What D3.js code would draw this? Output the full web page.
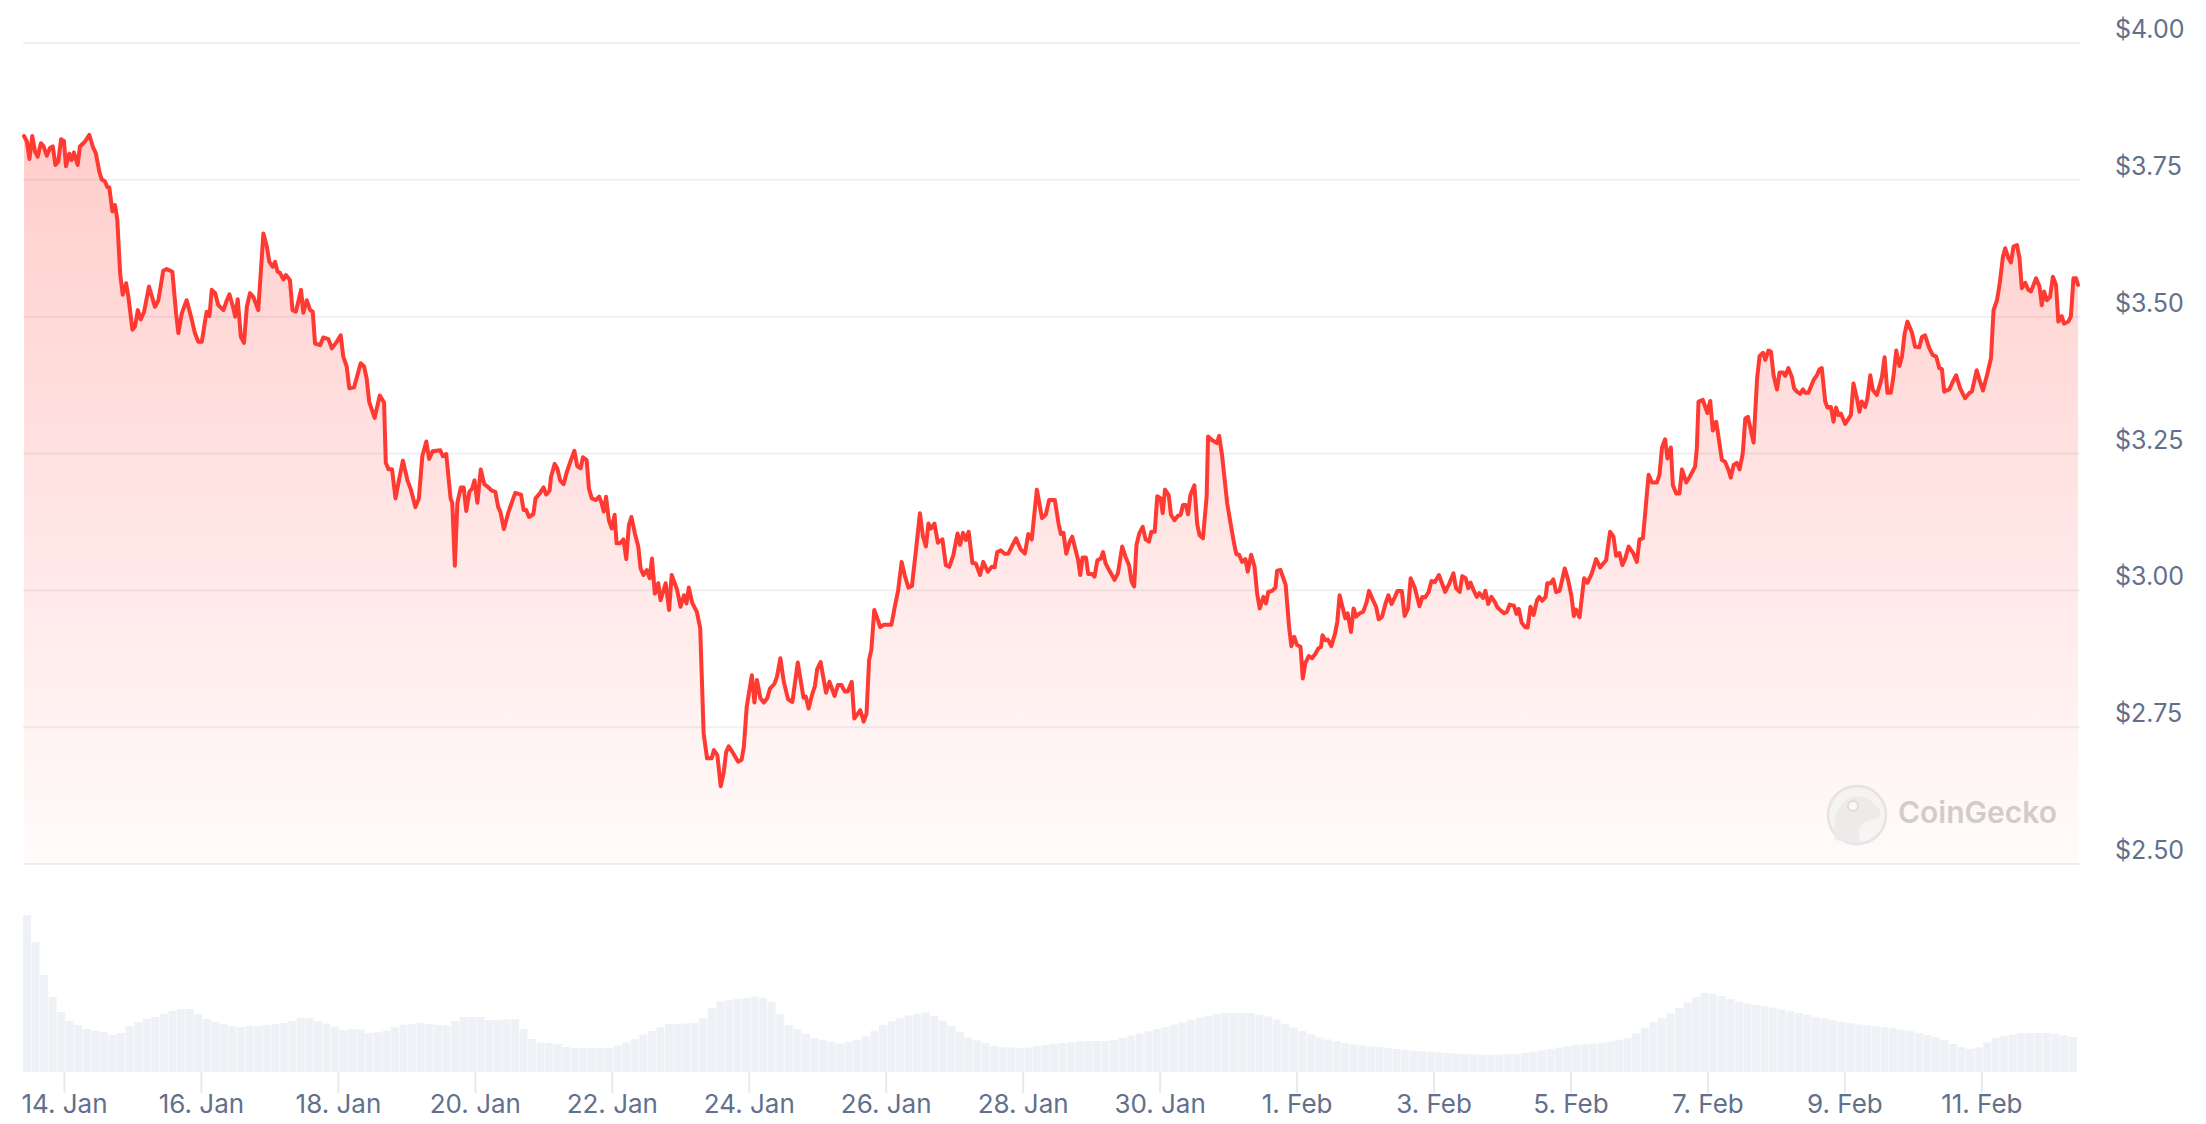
<!DOCTYPE html>
<html>
<head>
<meta charset="utf-8">
<script src="https://cdn.jsdelivr.net/npm/d3@7"></script>
<style>
  body { margin: 0; background: #ffffff; }
  svg { display: block; font-family: Inter, "Noto Sans", sans-serif; }
</style>
</head>
<body>
<div id="chart"></div>
<script>
// Page and pane layout (price pane on top, volume strip underneath).
var width = 2206;
var height = 1124;
var pane = { left: 23, right: 2080, top: 43, bottom: 864 };
var volPane = { top: 900, bottom: 1072 };
var lineStart = 24, lineEnd = 2078;

// Price points: hours since 13 Jan 2025 00:00, and price in USD.
var hours = [
  9.8,10.8,11.7,12.7,13.7,14.6,15.7,16.6,17.8,18.9,
  19.9,20.8,21.8,22.8,23.8,24.5,25.7,26.5,27.3,28.6,
  29.4,31.2,32.7,33.9,35.0,36.2,37.0,38.2,39.0,39.7,
  40.8,41.7,42.5,43.5,44.4,45.6,46.4,47.8,48.7,49.7,
  50.7,51.9,53.6,55.7,56.9,58.6,59.8,61.8,63.1,63.9,
  65.1,66.8,68.2,69.7,70.9,72.1,73.8,74.8,75.6,76.8,
  77.9,79.7,80.9,81.8,83.2,83.8,84.7,85.8,86.9,87.9,
  89.0,90.2,91.9,93.7,94.9,95.8,97.0,97.8,98.7,99.5,
  100.7,101.6,103.0,103.9,105.1,106.9,107.7,108.9,110.1,111.0,
  111.8,113.6,114.7,116.5,117.7,119.4,120.8,121.7,122.9,123.8,
  125.5,127.8,129.0,129.9,130.8,132.7,134.5,136.0,136.6,137.6,
  138.8,140.0,141.2,142.6,144.2,145.4,147.0,148.2,149.4,150.8,
  151.8,153.0,155.7,156.6,157.8,159.3,159.9,160.8,161.7,162.9,
  163.9,164.8,165.9,166.9,167.7,168.7,169.9,171.1,172.6,173.8,
  175.0,176.0,176.8,178.0,179.6,181.0,182.0,184.0,184.9,185.8,
  186.8,188.3,189.1,190.7,191.9,192.8,194.0,194.5,195.8,196.7,
  197.7,198.9,200.1,201.3,202.7,203.7,204.9,205.7,207.0,207.8,
  208.8,210.2,211.4,212.2,213.0,213.8,214.8,215.8,216.8,217.5,
  218.7,219.9,220.9,221.8,222.7,223.9,225.1,225.9,226.9,228.1,
  229.1,229.9,230.9,232.1,232.9,234.7,235.9,236.8,238.7,239.9,
  241.1,242.0,242.8,244.0,245.6,246.8,248.0,249.2,250.8,251.6,
  252.8,254.0,255.0,255.9,256.8,258.3,260.1,261.3,262.1,263.1,
  264.9,265.8,266.7,267.9,269.1,270.3,271.3,272.8,273.7,274.9,
  276.1,277.6,279.1,281.0,283.0,283.8,284.8,286.0,287.0,287.8,
  289.0,290.9,292.1,293.9,295.1,296.3,297.5,298.5,299.9,300.8,
  301.7,302.9,304.1,305.1,306.0,306.8,307.8,309.0,309.9,311.2,
  313.8,315.0,316.2,317.4,318.6,319.8,321.0,322.5,323.8,324.9,
  325.9,326.8,327.7,328.9,330.1,331.7,332.9,334.1,335.5,337.0,
  337.9,338.9,339.9,340.9,342.2,343.4,344.9,346.0,347.6,349.0,
  350.0,350.9,352.2,353.4,354.8,356.0,357.5,359.1,360.6,361.8,
  363.0,364.8,366.6,367.9,369.1,371.1,372.4,373.2,374.1,375.1,
  376.3,377.2,378.4,379.2,380.0,380.8,382.0,382.8,384.1,385.0,
  386.0,387.2,388.0,388.9,389.8,391.1,392.0,393.2,394.7,395.9,
  397.1,398.0,398.9,399.7,400.7,401.9,402.9,404.1,404.9,406.1,
  407.0,408.2,408.9,409.7,411.0,411.8,413.0,414.2,415.2,416.0,
  417.0,417.8,418.6,420.0,421.0,421.8,423.0,424.3,424.8,426.0,
  427.9,428.7,429.7,431.5,432.7,433.9,434.7,435.7,436.7,437.9,
  438.7,439.9,441.1,442.0,442.9,444.2,445.1,445.9,447.2,448.4,
  449.0,450.2,452.0,453.2,454.0,455.0,456.0,457.2,458.0,458.9,
  460.1,461.3,462.5,463.5,464.4,464.9,465.9,466.8,468.0,469.3,
  470.1,470.9,471.9,472.9,473.7,474.9,475.8,476.7,478.0,479.2,
  480.4,481.2,482.6,483.7,484.6,485.8,487.0,488.0,489.1,490.3,
  491.2,492.7,493.7,494.9,495.8,497.3,498.9,499.9,500.9,502.1,
  503.1,504.3,505.7,507.2,507.9,509.3,510.8,511.7,513.0,513.9,
  515.1,516.0,516.8,517.8,519.0,519.9,521.2,522.0,523.0,524.1,
  525.3,526.2,527.4,528.6,529.6,530.5,532.0,532.9,533.7,534.7,
  535.9,536.8,537.8,538.9,540.1,540.9,541.9,543.1,543.7,544.9,
  545.8,546.8,548.0,548.9,549.8,551.0,552.2,553.0,553.7,555.0,
  556.6,557.8,559.3,560.8,562.2,564.3,565.7,566.9,567.8,569.0,
  570.0,571.0,572.2,573.7,575.1,576.0,577.2,578.0,579.2,580.4,
  582.1,583.0,583.9,585.0,585.8,587.0,587.7,588.9,590.0,590.9,
  592.4,593.8,595.5,596.1,596.7,598.2,599.8,600.8,601.7,602.9,
  604.9,606.0,607.2,608.0,609.0,610.1,611.1,612.2,613.1,614.0,
  616.0,617.2,618.1,619.3,620.1,621.2,622.1,623.0,624.2,625.1,
  626.3,627.1,628.2,629.4,630.2,631.2,632.3,633.3,634.1,635.2,
  637.0,638.2,639.1,639.9,641.1,641.9,643.1,644.0,644.9,645.8,
  646.6,648.1,650.1,651.0,652.2,653.1,653.9,655.1,655.9,656.9,
  657.8,659.2,660.4,661.0,661.9,662.9,664.1,665.0,666.0,667.1,
  668.0,668.9,669.9,671.5,672.6,674.1,675.0,676.1,677.6,678.8,
  680.0,681.1,682.0,682.8,683.5,684.6,685.8,687.0,688.4,690.1,
  691.7,692.5,694.2,695.2,696.4,697.8,699.2,700.1,701.3,702.2,
  703.4,704.2,705.3,706.2,707.1,708.3,709.2,710.0,711.2,712.3,
  713.2,714.1,715.0,716.2,717.0,717.8,718.8,719.9,720.9,722.0,
  722.8,724.0,724.8,726.3,727.2,728.1,729.0,729.7
];

var prices = [
  3.830,3.820,3.788,3.830,3.801,3.792,3.817,3.812,3.794,3.808,
  3.811,3.777,3.783,3.824,3.821,3.775,3.798,3.786,3.800,3.777,
  3.811,3.820,3.832,3.811,3.798,3.765,3.751,3.747,3.737,3.736,
  3.692,3.704,3.677,3.579,3.540,3.561,3.536,3.476,3.482,3.512,
  3.495,3.509,3.555,3.518,3.530,3.584,3.587,3.582,3.506,3.470,
  3.506,3.530,3.503,3.470,3.454,3.454,3.509,3.501,3.549,3.543,
  3.521,3.512,3.530,3.541,3.515,3.500,3.532,3.463,3.452,3.518,
  3.543,3.536,3.512,3.652,3.628,3.600,3.591,3.600,3.582,3.580,
  3.568,3.576,3.567,3.512,3.509,3.549,3.507,3.530,3.512,3.509,
  3.451,3.448,3.462,3.459,3.442,3.454,3.466,3.427,3.409,3.369,
  3.371,3.415,3.409,3.387,3.344,3.315,3.356,3.343,3.233,3.221,
  3.221,3.168,3.201,3.237,3.201,3.184,3.152,3.168,3.245,3.272,
  3.240,3.254,3.256,3.245,3.249,3.168,3.160,3.045,3.160,3.188,
  3.188,3.145,3.180,3.186,3.201,3.160,3.221,3.194,3.188,3.182,
  3.180,3.152,3.143,3.112,3.143,3.164,3.178,3.175,3.147,3.147,
  3.134,3.139,3.168,3.178,3.188,3.175,3.182,3.207,3.231,3.223,
  3.201,3.194,3.217,3.235,3.255,3.227,3.223,3.243,3.238,3.186,
  3.168,3.165,3.171,3.160,3.144,3.171,3.128,3.113,3.138,3.086,
  3.086,3.093,3.057,3.119,3.134,3.104,3.080,3.040,3.028,3.037,
  3.022,3.058,2.994,3.013,2.982,3.013,2.964,3.028,3.001,2.970,
  2.991,2.976,3.005,2.977,2.961,2.931,2.739,2.693,2.693,2.708,
  2.699,2.642,2.666,2.705,2.715,2.703,2.687,2.690,2.714,2.787,
  2.845,2.795,2.836,2.803,2.795,2.803,2.821,2.829,2.842,2.876,
  2.833,2.801,2.796,2.868,2.804,2.806,2.784,2.809,2.825,2.856,
  2.869,2.813,2.833,2.807,2.827,2.827,2.815,2.815,2.833,2.766,
  2.772,2.781,2.760,2.775,2.873,2.892,2.964,2.947,2.933,2.937,
  2.937,2.970,3.001,3.052,3.025,3.005,3.008,3.077,3.141,3.098,
  3.080,3.122,3.113,3.122,3.087,3.093,3.046,3.043,3.064,3.104,
  3.083,3.105,3.092,3.107,3.050,3.049,3.028,3.052,3.034,3.043,
  3.042,3.070,3.073,3.067,3.067,3.080,3.095,3.075,3.067,3.103,
  3.093,3.184,3.132,3.138,3.165,3.165,3.122,3.103,3.105,3.067,
  3.089,3.098,3.073,3.057,3.028,3.060,3.060,3.030,3.030,3.025,
  3.055,3.058,3.070,3.049,3.040,3.028,3.019,3.031,3.080,3.061,
  3.046,3.016,3.007,3.083,3.104,3.116,3.093,3.089,3.107,3.107,
  3.172,3.168,3.141,3.184,3.174,3.138,3.128,3.136,3.138,3.156,
  3.156,3.139,3.174,3.192,3.121,3.101,3.095,3.171,3.281,3.275,
  3.269,3.282,3.247,3.159,3.122,3.086,3.066,3.065,3.052,3.057,
  3.034,3.065,3.043,2.994,2.967,2.988,2.976,2.997,2.999,3.005,
  3.036,3.037,3.010,2.933,2.898,2.915,2.900,2.897,2.839,2.867,
  2.880,2.876,2.885,2.894,2.897,2.918,2.909,2.910,2.898,2.921,
  2.943,2.991,2.970,2.949,2.958,2.924,2.967,2.952,2.958,2.961,
  2.979,2.999,2.982,2.970,2.947,2.952,2.976,2.991,2.975,2.988,
  2.999,2.999,2.953,2.967,3.022,3.004,2.971,2.988,2.987,2.997,
  3.017,3.015,3.028,3.007,2.997,3.012,3.031,3.004,2.997,3.026,
  3.022,3.004,3.014,3.001,2.988,2.995,2.986,2.999,2.975,2.988,
  2.979,2.969,2.963,2.958,2.961,2.974,2.972,2.957,2.966,2.941,
  2.933,2.932,2.970,2.955,2.982,2.988,2.981,2.988,3.013,3.013,
  3.020,2.997,2.999,3.019,3.040,3.019,2.988,2.953,2.965,2.951,
  3.022,3.014,3.031,3.057,3.042,3.055,3.107,3.098,3.063,3.068,
  3.046,3.058,3.080,3.069,3.052,3.093,3.095,3.141,3.211,3.197,
  3.197,3.211,3.261,3.276,3.241,3.261,3.192,3.177,3.177,3.221,
  3.197,3.209,3.226,3.259,3.345,3.348,3.324,3.346,3.292,3.308,
  3.238,3.235,3.220,3.206,3.229,3.233,3.221,3.250,3.314,3.317,
  3.270,3.385,3.428,3.434,3.421,3.438,3.436,3.393,3.367,3.398,
  3.398,3.392,3.406,3.390,3.369,3.363,3.359,3.367,3.361,3.361,
  3.384,3.393,3.404,3.406,3.345,3.334,3.335,3.308,3.334,3.320,
  3.323,3.304,3.320,3.378,3.351,3.326,3.345,3.335,3.351,3.393,
  3.366,3.357,3.378,3.390,3.426,3.361,3.361,3.390,3.438,3.410,
  3.427,3.468,3.491,3.471,3.445,3.444,3.463,3.466,3.442,3.430,
  3.427,3.406,3.404,3.363,3.365,3.367,3.381,3.393,3.369,3.351,
  3.361,3.363,3.402,3.384,3.365,3.393,3.424,3.512,3.530,3.558,
  3.610,3.625,3.607,3.599,3.628,3.631,3.607,3.552,3.562,3.549,
  3.546,3.558,3.570,3.555,3.521,3.546,3.530,3.536,3.573,3.558,
  3.491,3.501,3.487,3.491,3.500,3.570,3.570,3.558
];

// Trading volume in 3-hour buckets (millions USD), starting at the first price point.
var volumeStepHours = 3;
var volumeM = [
  785,650,485,375,300,255,235,215,205,200,185,195,230,250,265,275,290,305,315,315,
  290,265,250,240,230,225,230,230,235,240,245,255,270,268,255,243,227,210,215,212,
  195,198,207,223,236,240,245,240,235,233,255,275,275,275,260,260,263,265,215,165,
  148,145,140,125,120,120,120,120,120,132,147,165,188,205,223,240,240,243,245,270,
  320,353,358,365,370,377,370,352,289,235,213,191,170,161,152,143,149,161,178,206,
  235,254,270,283,291,299,280,256,230,202,173,158,144,130,124,123,121,122,129,135,
  140,145,150,154,155,155,155,160,171,182,192,203,214,224,236,248,261,271,280,290,
  295,295,295,294,286,278,262,241,222,205,189,173,163,154,144,138,133,128,124,119,
  115,110,107,104,101,98,95,92,89,88,86,85,87,89,90,95,102,108,115,122,
  130,136,139,142,146,153,161,169,193,221,248,270,293,320,349,374,396,391,380,365,
  351,342,335,329,322,313,304,295,286,276,267,259,251,244,238,233,229,224,218,212,
  206,196,185,174,159,140,124,115,123,148,171,179,186,194,195,195,195,191,183,175
];

// Axis ticks.
var priceTicks = [2.5, 2.75, 3, 3.25, 3.5, 3.75, 4];
var dateTicks = ["2025-01-14","2025-01-16","2025-01-18","2025-01-20","2025-01-22",
  "2025-01-24","2025-01-26","2025-01-28","2025-01-30","2025-02-01","2025-02-03",
  "2025-02-05","2025-02-07","2025-02-09","2025-02-11"];

var base = new Date(2025, 0, 13);
var hourMs = 3600 * 1000;
function atHour(h) { return new Date(base.getTime() + h * hourMs); }

var data = hours.map(function(h, i) {
  return { date: atHour(h), price: prices[i] };
});

var x = d3.scaleTime()
  .domain([data[0].date, data[data.length - 1].date])
  .range([lineStart, lineEnd]);

var y = d3.scaleLinear()
  .domain([2.5, 4])
  .range([pane.bottom, pane.top]);

var vy = d3.scaleLinear()
  .domain([0, 860])
  .range([volPane.bottom, volPane.top]);

var svg = d3.select("#chart").append("svg")
  .attr("width", width)
  .attr("height", height);

// Vertical gradient for the area under the price line.
var grad = svg.append("defs").append("linearGradient")
  .attr("id", "fade")
  .attr("gradientUnits", "userSpaceOnUse")
  .attr("x1", 0).attr("x2", 0)
  .attr("y1", pane.top).attr("y2", pane.bottom);
grad.append("stop").attr("offset", 0)
  .attr("stop-color", "#ff3a33").attr("stop-opacity", 0.28);
grad.append("stop").attr("offset", 1)
  .attr("stop-color", "#ff3a33").attr("stop-opacity", 0.02);

// Horizontal grid lines + price labels on the right.
svg.append("g").selectAll("line")
  .data(priceTicks)
  .enter().append("line")
  .attr("x1", pane.left)
  .attr("x2", pane.right)
  .attr("y1", d => y(d))
  .attr("y2", d => y(d))
  .attr("stroke", "#edf0f4")
  .attr("stroke-width", 2);

svg.append("g").selectAll("text")
  .data(priceTicks)
  .enter().append("text")
  .attr("x", 2115)
  .attr("y", d => y(d) - 5)
  .attr("fill", "#61708c")
  .style("font-size", "25px")
  .text(d => "$" + d3.format(".2f")(d));

// Volume bars.
var volStart = hours[0];
svg.append("g").selectAll("rect")
  .data(volumeM)
  .enter().append("rect")
  .attr("x", (d, i) => x(atHour(volStart + i * volumeStepHours)) - 1)
  .attr("width", (d, i) => x(atHour(volStart + (i + 1) * volumeStepHours)) - x(atHour(volStart + i * volumeStepHours)) - 0.6)
  .attr("y", d => vy(d))
  .attr("height", d => vy(0) - vy(d))
  .attr("fill", "#eef1f5");

// Area and line.
var area = d3.area()
  .x(d => x(d.date))
  .y0(y(2.5))
  .y1(d => y(d.price));

var line = d3.line()
  .x(d => x(d.date))
  .y(d => y(d.price));

svg.append("path")
  .datum(data)
  .attr("d", area)
  .attr("fill", "url(#fade)");

svg.append("path")
  .datum(data)
  .attr("d", line)
  .attr("fill", "none")
  .attr("stroke", "#ff3a33")
  .attr("stroke-width", 4)
  .attr("stroke-linejoin", "round")
  .attr("stroke-linecap", "round");

// Date axis: tick marks under the volume strip and labels.
var parseDay = d3.timeParse("%Y-%m-%d");
var fmtDay = d3.timeFormat("%-d. %b");
var tickDates = dateTicks.map(parseDay);

var xAxis = svg.append("g");
xAxis.selectAll("line")
  .data(tickDates)
  .enter().append("line")
  .attr("x1", d => x(d)).attr("x2", d => x(d))
  .attr("y1", volPane.bottom).attr("y2", 1093)
  .attr("stroke", "#e6e9ee")
  .attr("stroke-width", 2);

xAxis.selectAll("text")
  .data(tickDates)
  .enter().append("text")
  .attr("x", d => x(d))
  .attr("y", 1113)
  .attr("text-anchor", "middle")
  .attr("fill", "#61708c")
  .style("font-size", "26px")
  .text(d => fmtDay(d));

// CoinGecko watermark.
var wm = svg.append("g").attr("opacity", 0.6);
wm.append("circle")
  .attr("cx", 1857).attr("cy", 815).attr("r", 29)
  .attr("fill", "#f1f1f1")
  .attr("stroke", "#d6d6d6")
  .attr("stroke-width", 2.5);
wm.append("path")
  .attr("d", "M1835,840 C1832,822 1836,804 1850,798 C1862,793 1872,800 1878,808 C1882,812 1881,818 1875,819 C1868,820 1862,822 1860,828 C1858,834 1860,840 1862,844 Z")
  .attr("fill", "#e2e2e2");
wm.append("circle")
  .attr("cx", 1853).attr("cy", 806).attr("r", 5)
  .attr("fill", "#f7f7f7")
  .attr("stroke", "#cbcbcb")
  .attr("stroke-width", 2);
wm.append("text")
  .attr("x", 1898)
  .attr("y", 823)
  .attr("fill", "#b0b0b0")
  .style("font-size", "30px")
  .style("font-weight", 600)
  .text("CoinGecko");
</script>
</body>
</html>
